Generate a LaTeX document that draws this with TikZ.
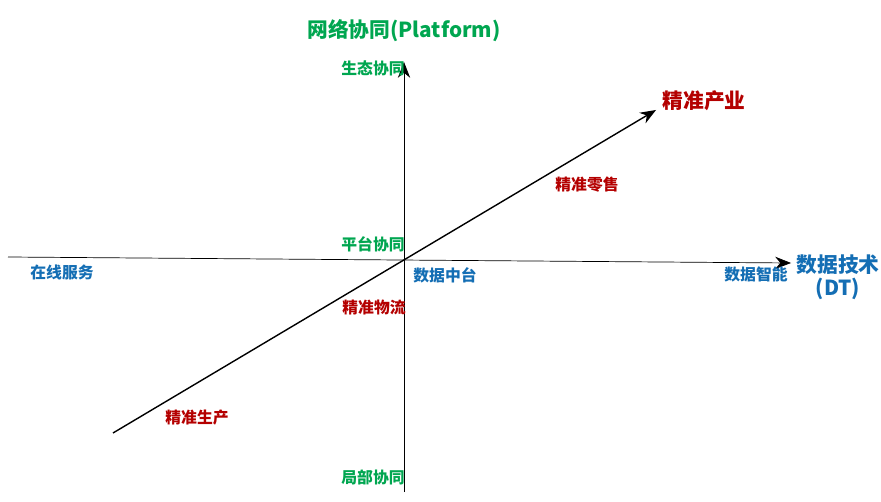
\documentclass[tikz,border=0pt]{standalone}
\usepackage{fontspec}
\setmainfont{Noto Sans CJK SC}
\usetikzlibrary{arrows.meta, positioning}
\definecolor{axgreen}{RGB}{0,166,80}
\definecolor{axblue}{RGB}{20,110,180}
\definecolor{axred}{RGB}{180,0,0}
\tikzstyle{arrow} = [thick, -{Stealth[length=9pt,width=7pt]}]

\begin{document}
\begin{tikzpicture}[x=0.02cm, y=-0.02cm,
    greenlabel/.style={text=axgreen, font=\fontsize{9}{10}\selectfont\bfseries},
    bluelabel/.style={text=axblue, font=\fontsize{9}{10}\selectfont\bfseries},
    redlabel/.style={text=axred, font=\fontsize{9}{10}\selectfont\bfseries},
]
\useasboundingbox (0,0) rectangle (881,502);

% Axes
\coordinate (ybot) at (404,492);
\coordinate (ytop) at (404,62);
\coordinate (xleft) at (8,257);
\coordinate (xright) at (791,263);
\coordinate (dstart) at (113,433);
\coordinate (dend) at (656,110);
\draw[arrow, thin] (ybot) -- (ytop);
\draw[arrow, thin] (xleft) -- (xright);
\draw[arrow] (dstart) -- (dend);

% Vertical axis labels
\node[greenlabel, font=\fontsize{11.8}{13}\selectfont\bfseries] (ytitle) at (404,31) {网络协同(Platform)};
\node[greenlabel] (eco) at (373,68) {生态协同};
\node[greenlabel] (plat) at (373,244) {平台协同};
\node[greenlabel] (local) at (373,477) {局部协同};

% Horizontal axis labels
\node[bluelabel] (online) at (62,272) {在线服务};
\node[bluelabel] (dmid) at (445,275) {数据中台};
\node[bluelabel] (dint) at (756,274) {数据智能};
\node[bluelabel, font=\fontsize{11.8}{13}\selectfont\bfseries, align=center] (xtitle) at (838,277) {数据技术\\(DT)};

% Diagonal labels
\node[redlabel, font=\fontsize{11.8}{13}\selectfont\bfseries] (ind) at (704,101) {精准产业};
\node[redlabel] (retail) at (587,185) {精准零售};
\node[redlabel] (logi) at (374,307) {精准物流};
\node[redlabel] (prod) at (197,418) {精准生产};

\end{tikzpicture}
\end{document}
